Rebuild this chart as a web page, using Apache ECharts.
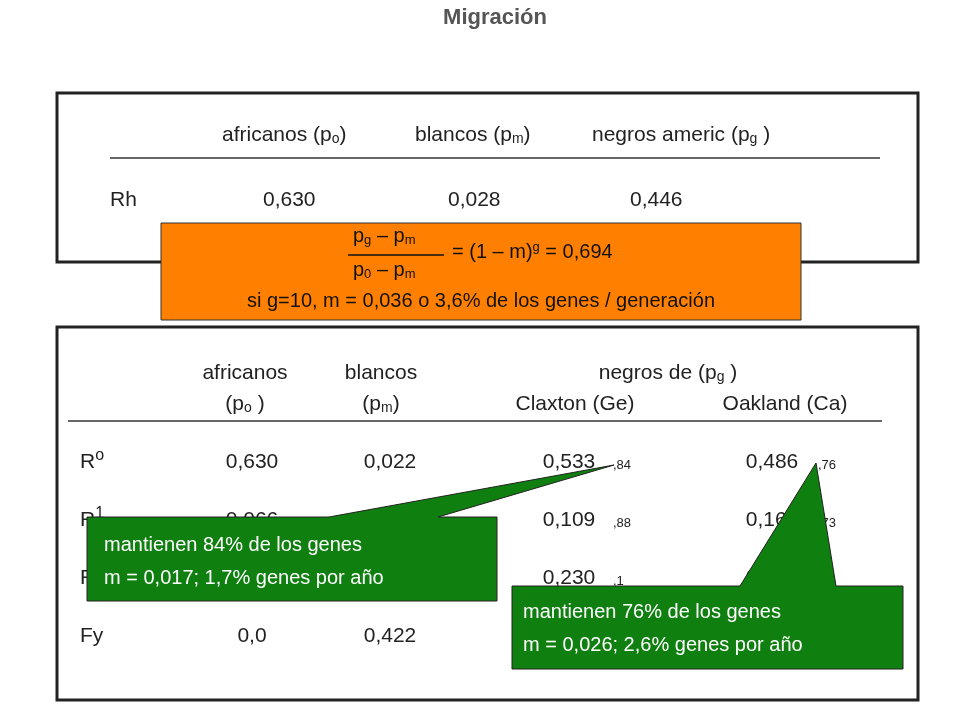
<!DOCTYPE html>
<html><head><meta charset="utf-8">
<script src="https://cdn.jsdelivr.net/npm/echarts@6/dist/echarts.min.js"></script>
<style>html,body{margin:0;padding:0;background:#fff}#c{width:960px;height:720px}</style>
</head><body><div id="c"></div>
<script>
const title = "Migración";
const topHeaders = [["africanos (p", "o", ")"], ["blancos (p", "m", ")"], ["negros americ (p", "g", " )"]];
const topRowLabel = "Rh";
const topValues = ["0,630", "0,028", "0,446"];
const formulaResult = "0,694";
const formulaLine2 = "si g=10, m = 0,036 o 3,6% de los genes / generación";
const rowLabels = [["R", "o"], ["R", "1"], ["R", "2"], ["Fy", ""]];
const africanos = ["0,630", "0,066", "0,104", "0,0"];
const blancos = ["0,022", "0,030", "0,024", "0,422"];
const claxton = ["0,533", "0,109", "0,230", ""];
const claxtonRatio = [",84", ",88", ",1", ""];
const oakland = ["0,486", "0,161", "0,152", ""];
const oaklandRatio = [",76", ",73", ",86", ""];
const note1 = ["mantienen 84% de los genes", "m = 0,017; 1,7% genes por año"];
const note2 = ["mantienen 76% de los genes", "m = 0,026; 2,6% genes por año"];

const F = "Liberation Sans, Arial, sans-serif";
const rich = {
  n: {fontSize: 21, fontFamily: F, fill: '#222'},
  sub: {fontSize: 14, fontFamily: F, fill: '#222', verticalAlign: 'bottom', padding: [8, 0, 0, 0]},
  sup: {fontSize: 16, fontFamily: F, fill: '#222', padding: [0, 0, 12, 0]}
};
function T(x, y, text, o) {
  return {type: 'text', x, y, z: o && o.z || 5, style: Object.assign({text, fontFamily: F, fontSize: 21, fill: '#222', textAlign: 'left', textVerticalAlign: 'middle'}, o || {})};
}
const g = [];
g.push(T(495, 18, title, {fontSize: 22, fontWeight: 'bold', fill: '#555', textAlign: 'center'}));
// top table
g.push({type: 'rect', shape: {x: 57, y: 93, width: 861, height: 169}, style: {fill: '#fff', stroke: '#222', lineWidth: 3}});
const thx = [222, 415, 592];
topHeaders.forEach((h, i) => g.push(T(thx[i], 135, '{n|' + h[0] + '}{sub|' + h[1] + '}{n|' + h[2] + '}', {rich})));
g.push({type: 'line', shape: {x1: 110, y1: 158, x2: 880, y2: 158}, style: {stroke: '#666', lineWidth: 2}});
g.push(T(110, 200, topRowLabel));
const tvx = [263, 448, 630];
topValues.forEach((v, i) => g.push(T(tvx[i], 200, v)));
// orange box
g.push({type: 'rect', z: 6, shape: {x: 161, y: 223, width: 640, height: 97}, style: {fill: '#FF8000', stroke: '#333', lineWidth: 1}});
const ow = {fontSize: 20, fill: '#111', z: 7};
const orich = {n: {fontSize: 20, fontFamily: F, fill: '#111'}, sub: {fontSize: 13, fontFamily: F, fill: '#111', padding: [8, 0, 0, 0]}, sup: {fontSize: 13, fontFamily: F, fill: '#111', padding: [0, 0, 10, 0]}};
g.push(T(353, 236, '{n|p}{sub|g}{n| – p}{sub|m}', Object.assign({rich: orich}, ow)));
g.push({type: 'line', z: 7, shape: {x1: 348, y1: 255, x2: 444, y2: 255}, style: {stroke: '#111', lineWidth: 1.5}});
g.push(T(353, 270, '{n|p}{sub|0}{n| – p}{sub|m}', Object.assign({rich: orich}, ow)));
g.push(T(452, 252, '{n|= (1 – m)}{sup|g}{n| = ' + formulaResult + '}', Object.assign({rich: orich}, ow)));
g.push(T(481, 301, formulaLine2, Object.assign({textAlign: 'center'}, ow)));
// bottom table
g.push({type: 'rect', shape: {x: 57, y: 327, width: 861, height: 373}, style: {fill: '#fff', stroke: '#222', lineWidth: 3}});
g.push(T(245, 373, 'africanos', {textAlign: 'center'}));
g.push(T(245, 404, '{n|(p}{sub|o}{n| )}', {rich, textAlign: 'center'}));
g.push(T(381, 373, 'blancos', {textAlign: 'center'}));
g.push(T(381, 404, '{n|(p}{sub|m}{n|)}', {rich, textAlign: 'center'}));
g.push(T(668, 373, '{n|negros de (p}{sub|g}{n| )}', {rich, textAlign: 'center'}));
g.push(T(575, 404, 'Claxton (Ge)', {textAlign: 'center'}));
g.push(T(785, 404, 'Oakland (Ca)', {textAlign: 'center'}));
g.push({type: 'line', shape: {x1: 68, y1: 421, x2: 882, y2: 421}, style: {stroke: '#666', lineWidth: 2}});
const ry = [462, 520, 578, 636];
rowLabels.forEach((l, i) => {
  g.push(T(80, ry[i], '{n|' + l[0] + '}' + (l[1] ? '{sup|' + l[1] + '}' : ''), {rich}));
  g.push(T(252, ry[i], africanos[i], {textAlign: 'center'}));
  g.push(T(390, ry[i], blancos[i], {textAlign: 'center'}));
  if (claxton[i]) g.push(T(569, ry[i], claxton[i], {textAlign: 'center'}));
  if (claxtonRatio[i]) g.push(T(613, ry[i] + 3, claxtonRatio[i], {fontSize: 13}));
  if (oakland[i]) g.push(T(772, ry[i], oakland[i], {textAlign: 'center'}));
  if (oaklandRatio[i]) g.push(T(818, ry[i] + 3, oaklandRatio[i], {fontSize: 13}));
});
// callouts
const green = '#0F7F0F';
g.push({type: 'polygon', z: 10, shape: {points: [[87, 517], [329, 517], [614, 465], [438, 517], [497, 517], [497, 601], [87, 601]]}, style: {fill: green, stroke: '#222', lineWidth: 1}});
note1.forEach((t, i) => g.push(T(104, 545 + i * 33, t, {fill: '#fff', fontSize: 20, z: 11})));
g.push({type: 'polygon', z: 10, shape: {points: [[512, 586], [740, 586], [816, 463], [836, 586], [903, 586], [903, 669], [512, 669]]}, style: {fill: green, stroke: '#222', lineWidth: 1}});
note2.forEach((t, i) => g.push(T(523, 612 + i * 33, t, {fill: '#fff', fontSize: 20, z: 11})));

const chart = echarts.init(document.getElementById('c'));
chart.setOption({animation: false, graphic: g});
</script></body></html>
